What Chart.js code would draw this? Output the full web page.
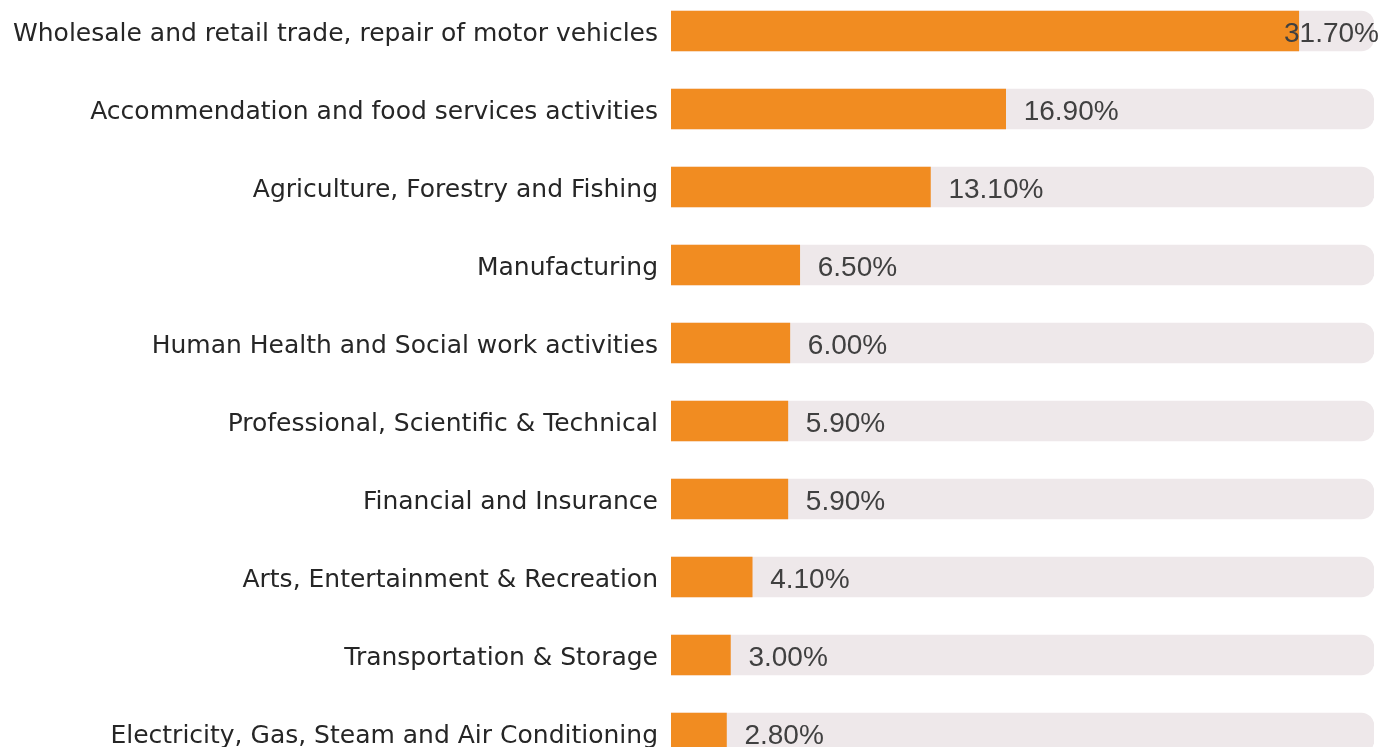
<!DOCTYPE html>
<html>
<head>
<meta charset="utf-8">
<script src="https://cdn.jsdelivr.net/npm/chart.js@4/dist/chart.umd.min.js"></script>
<style>
    html, body { margin: 0; padding: 0; background: #fff; overflow: hidden; }
    .wrap { position: absolute; left: 0; top: -28px; width: 1383px; height: 820px; }
</style>
</head>
<body>
<div class="wrap"><canvas id="sectorChart"></canvas></div>
<script>
// Share of businesses by sector
const sectors = [
    'Wholesale and retail trade, repair of motor vehicles',
    'Accommendation and food services activities',
    'Agriculture, Forestry and Fishing',
    'Manufacturing',
    'Human Health and Social work activities',
    'Professional, Scientific & Technical',
    'Financial and Insurance',
    'Arts, Entertainment & Recreation',
    'Transportation & Storage',
    'Electricity, Gas, Steam and Air Conditioning'
];
const shares = [31.7, 16.9, 13.1, 6.5, 6.0, 5.9, 5.9, 4.1, 3.0, 2.8];
const axisMax = 35.5;
const trackValues = sectors.map(() => axisMax);

// Draw the percentage text next to each orange bar
const valueLabels = {
    id: 'valueLabels',
    afterDatasetsDraw(chart) {
        const ctx = chart.ctx;
        const meta = chart.getDatasetMeta(0);
        ctx.save();
        ctx.font = '28px "Liberation Sans", Arial, sans-serif';
        ctx.fillStyle = '#404040';
        ctx.textBaseline = 'middle';
        ctx.textAlign = 'left';
        meta.data.forEach((bar, i) => {
            const text = shares[i].toFixed(2) + '%';
            const w = ctx.measureText(text).width;
            let x = bar.x + 18;
            if (x + w > chart.width - 4) x = chart.width - 4 - w;
            ctx.fillText(text, x, bar.y + 3);
        });
        ctx.restore();
    }
};

new Chart(document.getElementById('sectorChart'), {
    type: 'bar',
    data: {
        labels: sectors,
        datasets: [
            {
                data: shares,
                backgroundColor: '#F18C21',
                borderWidth: 0,
                borderSkipped: false,
                barThickness: 40,
                order: 0
            },
            {
                data: trackValues,
                backgroundColor: '#EEE8EA',
                borderWidth: 0,
                borderRadius: { topLeft: 0, bottomLeft: 0, topRight: 13, bottomRight: 13 },
                borderSkipped: false,
                barThickness: 40,
                order: 1
            }
        ]
    },
    options: {
        indexAxis: 'y',
        responsive: true,
        maintainAspectRatio: false,
        animation: false,
        layout: { padding: { left: 0, right: 9, top: 0, bottom: 0 } },
        datasets: { bar: { grouped: false } },
        scales: {
            x: {
                display: false,
                min: 0,
                max: axisMax
            },
            y: {
                grid: { display: false },
                border: { display: false },
                ticks: {
                    color: '#262626',
                    padding: 5,
                    labelOffset: 3,
                    font: { family: '"DejaVu Sans", sans-serif', size: 25 }
                },
                afterFit: function(scale) {
                    scale.width = 671;
                }
            }
        },
        plugins: {
            legend: { display: false },
            tooltip: { enabled: false }
        }
    },
    plugins: [valueLabels]
});
</script>
</body>
</html>
